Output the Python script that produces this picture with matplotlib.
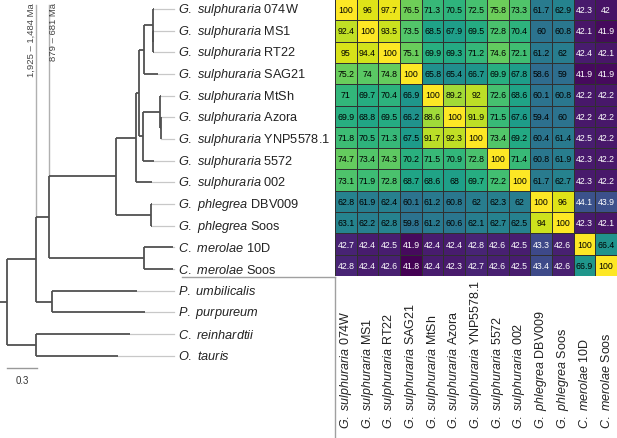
import numpy as np
import matplotlib
matplotlib.use("Agg")
import matplotlib.pyplot as plt
from matplotlib import colors as mcolors
from matplotlib.transforms import blended_transform_factory

plt.rcParams['font.family'] = ['Liberation Sans', 'DejaVu Sans']
plt.rcParams['mathtext.fontset'] = 'custom'
plt.rcParams['mathtext.rm'] = 'Liberation Sans'
plt.rcParams['mathtext.it'] = 'Liberation Sans:italic'

# strains in the heatmap (species in italics, strain in roman)
strain_species = ['G. sulphuraria'] * 9 + ['G. phlegrea'] * 2 + ['C. merolae'] * 2
strain_names = ['074W', 'MS1', 'RT22', 'SAG21', 'MtSh', 'Azora', 'YNP5578.1',
                '5572', '002', 'DBV009', 'Soos', '10D', 'Soos']
outgroups = ['P. umbilicalis', 'P. purpureum', 'C. reinhardtii', 'O. tauris']

# pairwise identity (%)
identity = [
    [100, 96, 97.7, 76.5, 71.3, 70.5, 72.5, 75.8, 73.3, 61.7, 62.9, 42.3, 42],
    [92.4, 100, 93.5, 73.5, 68.5, 67.9, 69.5, 72.8, 70.4, 60, 60.8, 42.1, 41.9],
    [95, 94.4, 100, 75.1, 69.9, 69.3, 71.2, 74.6, 72.1, 61.2, 62, 42.4, 42.1],
    [75.2, 74, 74.8, 100, 65.8, 65.4, 66.7, 69.9, 67.8, 58.6, 59, 41.9, 41.9],
    [71, 69.7, 70.4, 66.9, 100, 89.2, 92, 72.6, 68.6, 60.1, 60.8, 42.2, 42.2],
    [69.9, 68.8, 69.5, 66.2, 88.6, 100, 91.9, 71.5, 67.6, 59.4, 60, 42.2, 42.2],
    [71.8, 70.5, 71.3, 67.5, 91.7, 92.3, 100, 73.4, 69.2, 60.4, 61.4, 42.5, 42.2],
    [74.7, 73.4, 74.3, 70.2, 71.5, 70.9, 72.8, 100, 71.4, 60.8, 61.9, 42.3, 42.2],
    [73.1, 71.9, 72.8, 68.7, 68.6, 68, 69.7, 72.2, 100, 61.7, 62.7, 42.3, 42.2],
    [62.8, 61.9, 62.4, 60.1, 61.2, 60.8, 62, 62.3, 62, 100, 96, 44.1, 43.9],
    [63.1, 62.2, 62.8, 59.8, 61.2, 60.6, 62.1, 62.7, 62.5, 94, 100, 42.3, 42.1],
    [42.7, 42.4, 42.5, 41.9, 42.4, 42.4, 42.8, 42.6, 42.5, 43.3, 42.6, 100, 66.4],
    [42.8, 42.4, 42.6, 41.8, 42.4, 42.3, 42.7, 42.6, 42.5, 43.4, 42.6, 66.9, 100],
]

# tree: (tip index or node name, branch length, children)
tree = ('root', 0.067, [
    ('red', 0.293, [
        ('cyan', 0.13, [
            ('', 0.667, [
                ('', 0.2, [
                    ('', 0.036, [
                        ('', 0.05, [
                            ('', 0.084, [
                                (0, 0.01, []),
                                ('', 0.005, [(1, 0.005, []), (2, 0.005, [])]),
                            ]),
                            (3, 0.137, []),
                        ]),
                        ('', 0.04, [
                            ('', 0.167, [
                                (4, 0.01, []),
                                ('', 0.005, [(5, 0.005, []), (6, 0.005, [])]),
                            ]),
                            (7, 0.11, []),
                        ]),
                    ]),
                    (8, 0.16, []),
                ]),
                ('', 0.353, [(9, 0.01, []), (10, 0.01, [])]),
            ]),
            ('', 0.953, [(11, 0.29, []), (12, 0.29, [])]),
        ]),
        ('', 0.157, [(13, 0.856, []), (14, 0.933, [])]),
    ]),
    ('', 0.293, [(15, 0.94, []), (16, 0.823, [])]),
])

node_ages = {'red': '1,925 \u2013 1,484 Ma', 'cyan': '879 \u2013 681 Ma'}

# non-linear colour scale (value -> position in viridis)
cscale_vals = [41.8, 42.0, 42.8, 43.3, 44.1, 58.6, 60, 62, 63, 66, 68, 70, 72, 75, 89, 92, 96, 100]
cscale_pos = [0.0, 0.05, 0.1, 0.22, 0.25, 0.35, 0.38, 0.42, 0.45, 0.5, 0.56, 0.63, 0.69, 0.77,
              0.86, 0.9, 0.95, 1.0]

tip_labels = ([r'$\mathit{%s}$ %s' % (s.replace(' ', r'\ '), n)
               for s, n in zip(strain_species, strain_names)] +
              [r'$\mathit{%s}$' % s.replace(' ', r'\ ') for s in outgroups])
col_labels = tip_labels[:13]

segs = []
tips_x = {}
nodes = {}


def layout(node, x0):
    key, length, kids = node
    x1 = x0 + length
    if not kids:
        y = key
        tips_x[key] = x1
    else:
        ys = [layout(k, x1) for k in kids]
        segs.append(((x1, x1), (ys[0], ys[-1])))
        y = (ys[0] + ys[-1]) / 2
        nodes[key] = (x1, ys[0])
    segs.append(((x0, x1), (y, y)))
    return y


layout(tree, 0.0)

W, H = 617, 439
fig = plt.figure(figsize=(W / 100, H / 100), dpi=100)

# tree axes spans the whole figure; 1 unit of branch length = 100 px
ax = fig.add_axes([0, 0, 1, 1])
row_px = 21.67
ax.set_xlim(0, W / 100)
ax.set_ylim((H - 10) / row_px, -10 / row_px)
ax.axis('off')

branch_col = '#505050'
for xs, ys in segs:
    ax.plot(xs, ys, color=branch_col, lw=1.3, solid_capstyle='butt')

label_x = 1.78
for i, lab in enumerate(tip_labels):
    ax.plot([tips_x[i], label_x - 0.04], [i, i], color='#c8c8c8', lw=0.9, zorder=0)
    ax.text(label_x, i, lab, fontsize=9.2, va='center', ha='left', color='#222222')

# divergence time lines
for key, side in [('red', -1), ('cyan', 1)]:
    nx, ny = nodes[key]
    ax.plot([nx, nx], [-0.2, ny], color='#b0b0b0', lw=1.0, zorder=0)
    ax.text(nx + side * 0.045, -0.33, node_ages[key], rotation=90, fontsize=6.8,
            ha='center', va='top', color='#444444')

# scale bar
ax.plot([0.067, 0.367], [16.57, 16.57], color='#999999', lw=1.0)
ax.text(0.22, 17.1, '0.3', fontsize=7, ha='center', va='center', color='#333333')

# separators between tree and heatmap labels
hm_bottom = (277.5 - 10) / row_px
ax.plot([1.817, 3.35], [hm_bottom, hm_bottom], color='#a0a0a0', lw=1.0)
ax.plot([3.35, 3.35], [hm_bottom, (H - 10) / row_px], color='#a0a0a0', lw=1.0)

# heatmap
data = np.array(identity)
norm = mcolors.FuncNorm((lambda x: np.interp(x, cscale_vals, cscale_pos),
                         lambda y: np.interp(y, cscale_pos, cscale_vals)),
                        vmin=cscale_vals[0], vmax=cscale_vals[-1])

ax_hm = fig.add_axes([335 / W, 1 - 277 / H, 282 / W, 277 / H])
ax_hm.pcolormesh(data, cmap='viridis', norm=norm, edgecolors='#303030', linewidth=0.6)
ax_hm.set_xlim(0, data.shape[1])
ax_hm.set_ylim(data.shape[0], 0)
ax_hm.axis('off')

for r in range(data.shape[0]):
    for c in range(data.shape[1]):
        v = data[r, c]
        ax_hm.text(c + 0.5, r + 0.5, f'{v:g}', ha='center', va='center', fontsize=6.3,
                   color='white' if v < 50 else 'black')

trans = blended_transform_factory(ax_hm.transData, ax_hm.transAxes)
for c, lab in enumerate(col_labels):
    ax_hm.text(c + 0.5, -152 / 277, lab, transform=trans, rotation=90, fontsize=9,
               ha='center', va='bottom', color='#222222', clip_on=False)

fig.savefig('out.png', dpi=100)
